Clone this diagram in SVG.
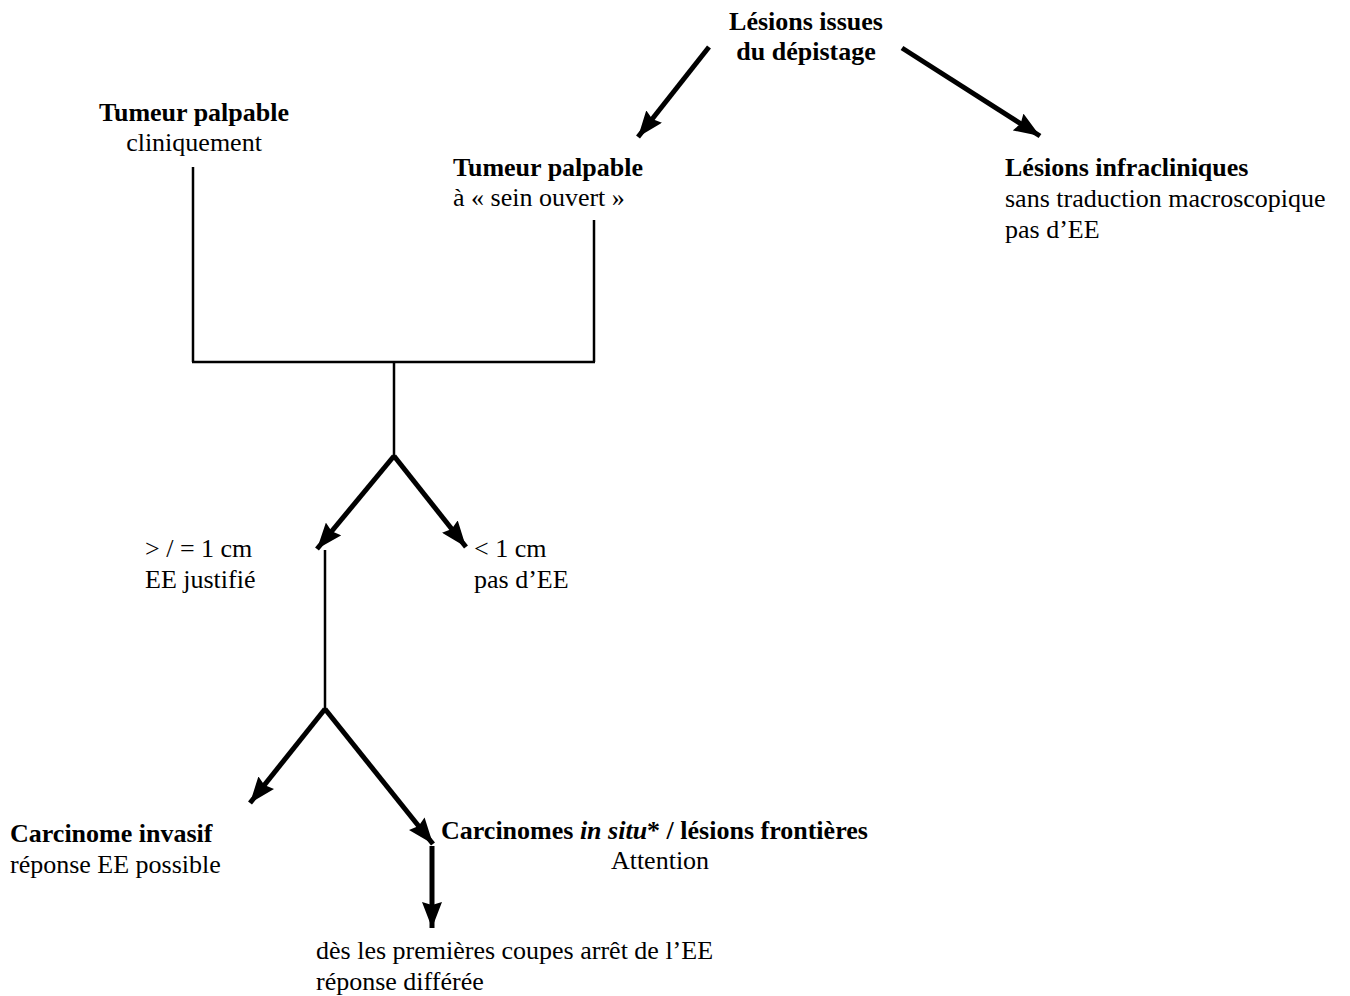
<svg xmlns="http://www.w3.org/2000/svg" width="1350" height="996" viewBox="0 0 1350 996">
<style>
text{font-family:"Liberation Serif","Times New Roman",serif;font-size:26px;fill:#000}
.b{font-weight:bold}
.m{text-anchor:middle}
.ln{stroke:#000;stroke-width:2.5;fill:none}
.ar{stroke:#000;stroke-width:5;fill:none;marker-end:url(#ah)}
</style>
<defs>
<marker id="ah" markerUnits="userSpaceOnUse" markerWidth="27" markerHeight="20" refX="26" refY="10" orient="auto" viewBox="0 0 27 20">
<path d="M0,0 L26,10 L0,20 L3,10 z" fill="#000"/>
</marker>
</defs>
<rect width="1350" height="996" fill="#fff"/>
<g id="connectors">
<line class="ar" x1="709" y1="47" x2="638" y2="137"/>
<line class="ar" x1="902" y1="48" x2="1040" y2="136"/>
<line class="ln" x1="193" y1="167" x2="193" y2="362"/>
<line class="ln" x1="594" y1="220" x2="594" y2="362"/>
<line class="ln" x1="192" y1="362" x2="595" y2="362"/>
<line class="ln" x1="394" y1="362" x2="394" y2="456"/>
<line class="ar" x1="394" y1="456" x2="317" y2="549"/>
<line class="ar" x1="394" y1="456" x2="466" y2="547"/>
<line class="ln" x1="325" y1="550" x2="325" y2="710"/>
<line class="ar" x1="325" y1="709" x2="250" y2="803"/>
<line class="ar" x1="325" y1="709" x2="433" y2="844"/>
<line class="ar" x1="432" y1="846" x2="432" y2="928"/>
</g>
<g id="n-depistage"><text class="b m" x="806" y="30">Lésions issues</text><text class="b m" x="806" y="60">du dépistage</text></g>
<g id="n-clinique"><text class="b m" x="194" y="121">Tumeur palpable</text><text class="m" x="194" y="151">cliniquement</text></g>
<g id="n-ouvert"><text class="b" x="453" y="176">Tumeur palpable</text><text x="453" y="206">à « sein ouvert »</text></g>
<g id="n-infra"><text class="b" x="1005" y="176">Lésions infracliniques</text><text x="1005" y="207">sans traduction macroscopique</text><text x="1005" y="238">pas d’EE</text></g>
<g id="n-ge1"><text x="145" y="557">&gt; / = 1 cm</text><text x="145" y="588">EE justifié</text></g>
<g id="n-lt1"><text x="474" y="557">&lt; 1 cm</text><text x="474" y="588">pas d’EE</text></g>
<g id="n-invasif"><text class="b" x="10" y="842">Carcinome invasif</text><text x="10" y="873">réponse EE possible</text></g>
<g id="n-insitu"><text class="b" x="441" y="839">Carcinomes <tspan font-style="italic">in situ</tspan>* / lésions frontières</text><text class="m" x="660" y="869">Attention</text></g>
<g id="n-differee"><text x="316" y="959">dès les premières coupes arrêt de l’EE</text><text x="316" y="990">réponse différée</text></g>
</svg>
